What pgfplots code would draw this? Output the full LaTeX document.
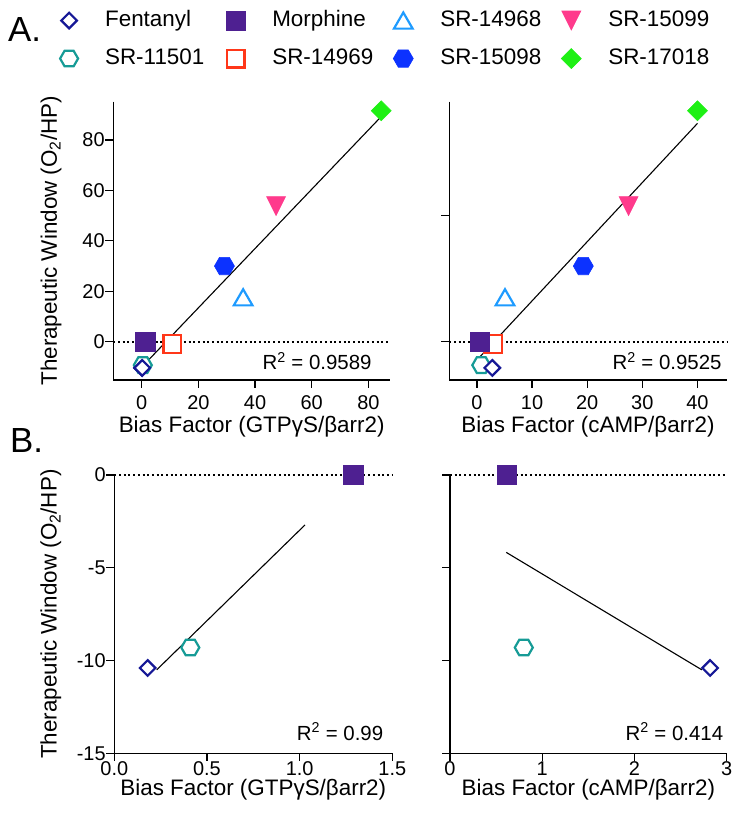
\documentclass[border=0pt]{standalone}
\usepackage{fontspec}
\setmainfont{Liberation Sans}
\usepackage{pgfplots}
\pgfplotsset{compat=1.18}

\definecolor{cFen}{RGB}{22,24,150}
\definecolor{cMor}{RGB}{78,32,145}
\definecolor{cSa}{RGB}{30,155,255}
\definecolor{cSb}{RGB}{255,58,140}
\definecolor{cSc}{RGB}{22,155,150}
\definecolor{cSd}{RGB}{255,55,25}
\definecolor{cSe}{RGB}{12,50,255}
\definecolor{cSf}{RGB}{30,240,20}

\pgfdeclareplotmark{hexa}{%
  \pgfpathmoveto{\pgfqpoint{\pgfplotmarksize}{0pt}}%
  \pgfpathlineto{\pgfqpoint{0.5\pgfplotmarksize}{0.866\pgfplotmarksize}}%
  \pgfpathlineto{\pgfqpoint{-0.5\pgfplotmarksize}{0.866\pgfplotmarksize}}%
  \pgfpathlineto{\pgfqpoint{-\pgfplotmarksize}{0pt}}%
  \pgfpathlineto{\pgfqpoint{-0.5\pgfplotmarksize}{-0.866\pgfplotmarksize}}%
  \pgfpathlineto{\pgfqpoint{0.5\pgfplotmarksize}{-0.866\pgfplotmarksize}}%
  \pgfpathclose
  \pgfusepathqfillstroke
}
\pgfdeclareplotmark{dia}{%
  \pgfpathmoveto{\pgfqpoint{0pt}{\pgfplotmarksize}}%
  \pgfpathlineto{\pgfqpoint{\pgfplotmarksize}{0pt}}%
  \pgfpathlineto{\pgfqpoint{0pt}{-\pgfplotmarksize}}%
  \pgfpathlineto{\pgfqpoint{-\pgfplotmarksize}{0pt}}%
  \pgfpathclose
  \pgfusepathqfillstroke
}
\pgfdeclareplotmark{sq}{%
  \pgfpathmoveto{\pgfqpoint{-\pgfplotmarksize}{-\pgfplotmarksize}}%
  \pgfpathlineto{\pgfqpoint{\pgfplotmarksize}{-\pgfplotmarksize}}%
  \pgfpathlineto{\pgfqpoint{\pgfplotmarksize}{\pgfplotmarksize}}%
  \pgfpathlineto{\pgfqpoint{-\pgfplotmarksize}{\pgfplotmarksize}}%
  \pgfpathclose
  \pgfusepathqfillstroke
}
\pgfdeclareplotmark{tri}{%
  \pgfpathmoveto{\pgfqpoint{0pt}{0.95\pgfplotmarksize}}%
  \pgfpathlineto{\pgfqpoint{1.1\pgfplotmarksize}{-0.95\pgfplotmarksize}}%
  \pgfpathlineto{\pgfqpoint{-1.1\pgfplotmarksize}{-0.95\pgfplotmarksize}}%
  \pgfpathclose
  \pgfusepathqfillstroke
}
\pgfdeclareplotmark{itri}{%
  \pgfpathmoveto{\pgfqpoint{0pt}{-\pgfplotmarksize}}%
  \pgfpathlineto{\pgfqpoint{\pgfplotmarksize}{\pgfplotmarksize}}%
  \pgfpathlineto{\pgfqpoint{-\pgfplotmarksize}{\pgfplotmarksize}}%
  \pgfpathclose
  \pgfusepathqfillstroke
}

\tikzset{
  rsq/.style={anchor=east, font=\fontsize{20.5}{24}\selectfont, inner sep=0pt},
  axl/.style={line width=1.3bp, black, line join=miter},
  tk/.style={line width=1.3bp, black},
}

\pgfplotsset{
  panel/.style={
    scale only axis, clip=false, anchor=south west,
    axis lines*=left,
    axis line style={draw=none},
    major tick style={draw=none},
    major tick length=0pt,
    tick label style={font=\fontsize{20}{24}\selectfont, black},
    xticklabel style={anchor=north, inner sep=0pt, yshift=-15bp},
    yticklabel style={anchor=east, inner sep=0pt, xshift=-8.5bp},
    label style={font=\fontsize{22.5}{27}\selectfont, black},
    /pgf/number format/assume math mode=true,
  },
  fen/.style={only marks, mark=dia, mark size=7.8bp, mark options={solid, draw=cFen, fill=white, line width=2.2bp}},
  mor/.style={only marks, mark=sq, mark size=9.6bp, mark options={solid, draw=cMor, fill=cMor, line width=0.6bp}},
  sa/.style={only marks, mark=tri, mark size=8.5bp, mark options={solid, draw=cSa, fill=white, line width=2.2bp}},
  sb/.style={only marks, mark=itri, mark size=9.5bp, mark options={solid, draw=cSb, fill=cSb, line width=0.6bp}},
  sc/.style={only marks, mark=hexa, mark size=9bp, mark options={solid, draw=cSc, fill=white, line width=2.2bp}},
  sd/.style={only marks, mark=sq, mark size=8.8bp, mark options={solid, draw=cSd, fill=white, line width=2.4bp}},
  se/.style={only marks, mark=hexa, mark size=10bp, mark options={solid, draw=cSe, fill=cSe, line width=0.6bp}},
  sf/.style={only marks, mark=dia, mark size=10bp, mark options={solid, draw=cSf, fill=cSf, line width=0.6bp}},
  zeroline/.style={forget plot, no marks, black, line width=2bp, dash pattern=on 2bp off 2.7bp},
  regline/.style={forget plot, no marks, black, line width=1.1bp},
}

\begin{document}
\begin{tikzpicture}

% ---------------- A, left ----------------
\begin{axis}[panel,
  at={(113.3bp,-380bp)}, width=276.7bp, height=278.3bp,
  xmin=-10, xmax=87.6, ymin=-15.2, ymax=95.2,
  xtick={0,20,40,60,80}, ytick={0,20,40,60,80},
  xlabel={Bias Factor (GTPγS/βarr2)},
  ylabel={Therapeutic Window (O\textsubscript{2}/HP)},
  xlabel style={at={(axis description cs:0.5,-0.189)}, anchor=base},
  ylabel style={at={(axis description cs:-0.225,0.5)}, anchor=center},
  legend columns=4,
  legend cell align=left,
  legend style={at={(axis description cs:-0.193,1.33)}, anchor=north west,
    draw=none, fill=none, inner sep=0pt,
    font=\fontsize{22.5}{27}\selectfont,
    nodes={inner sep=0pt, text height=16bp, text depth=5bp},
    row sep=17bp,
    /tikz/every odd column/.append style={column sep=27bp},
  },
]
\draw[axl] (rel axis cs:0,1) -- (rel axis cs:0,0) -- (rel axis cs:1,0);
\pgfplotsinvokeforeach{0,20,40,60,80}{\draw[tk] (axis cs:#1,-15.2) -- ++(0bp,-8bp);}
\pgfplotsinvokeforeach{0,20,40,60,80}{\draw[tk] (axis cs:-10,#1) -- ++(-8bp,0bp);}
\addplot[zeroline] coordinates {(-10,0) (87.6,0)};
\addplot[regline] coordinates {(0.18,-9.9) (84.5,89.3)};
\addplot[fen] coordinates {(0.18,-10.4)};
\addplot[mor] coordinates {(1.29,0)};
\addplot[sa] coordinates {(35.8,17.6)};
\addplot[sb] coordinates {(47.4,53.8)};
\addplot[sc] coordinates {(0.41,-9.3)};
\addplot[sd] coordinates {(10.8,-0.9)};
\addplot[se] coordinates {(29.2,30.0)};
\addplot[sf] coordinates {(84.5,91.6)};
\addplot[fen, forget plot] coordinates {(0.18,-10.4)};
\legend{\makebox[121bp][l]{Fentanyl},\makebox[121bp][l]{Morphine},\makebox[121bp][l]{SR-14968},\makebox[121bp][l]{SR-15099},
        \makebox[121bp][l]{SR-11501},\makebox[121bp][l]{SR-14969},\makebox[121bp][l]{SR-15098},\makebox[121bp][l]{SR-17018}}
\node[rsq] at (rel axis cs:0.934,0.068) {R\textsuperscript{2} = 0.9589};
\end{axis}

% ---------------- A, right ----------------
\begin{axis}[panel,
  at={(449.3bp,-380bp)}, width=277.4bp, height=278.3bp,
  xmin=-5, xmax=45.3, ymin=-15.2, ymax=95.2,
  xtick={0,10,20,30,40}, ytick={0,50}, yticklabels={,},
  xlabel={Bias Factor (cAMP/βarr2)},
  xlabel style={at={(axis description cs:0.5,-0.189)}, anchor=base},
]
\draw[axl] (rel axis cs:0,1) -- (rel axis cs:0,0) -- (rel axis cs:1,0);
\pgfplotsinvokeforeach{0,10,20,30,40}{\draw[tk] (axis cs:#1,-15.2) -- ++(0bp,-8bp);}
\pgfplotsinvokeforeach{0,50}{\draw[tk] (axis cs:-5,#1) -- ++(-8bp,0bp);}
\addplot[zeroline] coordinates {(-5,0) (45.3,0)};
\addplot[regline] coordinates {(0.6,-5.9) (40.0,86.6)};
\addplot[sd] coordinates {(3.0,-0.9)};
\addplot[sa] coordinates {(5.1,17.6)};
\addplot[se] coordinates {(19.3,30.0)};
\addplot[sb] coordinates {(27.5,53.8)};
\addplot[sf] coordinates {(40.0,91.6)};
\addplot[sc] coordinates {(0.8,-9.3)};
\addplot[fen] coordinates {(2.8,-10.4)};
\addplot[mor] coordinates {(0.6,0)};
\node[rsq] at (rel axis cs:0.982,0.068) {R\textsuperscript{2} = 0.9525};
\end{axis}

% ---------------- B, left ----------------
\begin{axis}[panel,
  at={(114.3bp,-753.3bp)}, width=278bp, height=278.3bp,
  xmin=0, xmax=1.5, ymin=-15, ymax=0,
  xtick={0,0.5,1,1.5}, xticklabels={0.0,0.5,1.0,1.5},
  ytick={-15,-10,-5,0}, yticklabels={-15,-10,-5,0},
  xticklabel style={yshift=7bp},
  xlabel={Bias Factor (GTPγS/βarr2)},
  ylabel={Therapeutic Window (O\textsubscript{2}/HP)},
  xlabel style={at={(axis description cs:0.5,-0.153)}, anchor=base},
  ylabel style={at={(axis description cs:-0.228,0.5)}, anchor=center},
]
\draw[axl] (rel axis cs:0,1) -- (rel axis cs:0,0) -- (rel axis cs:1,0);
\pgfplotsinvokeforeach{0,0.5,1,1.5}{\draw[tk] (axis cs:#1,-15) -- ++(0bp,-8bp);}
\pgfplotsinvokeforeach{-15,-10,-5,0}{\draw[tk] (axis cs:0,#1) -- ++(-8bp,0bp);}
\addplot[zeroline] coordinates {(0,0) (1.5,0)};
\addplot[regline] coordinates {(0.229,-10.5) (1.029,-2.69)};
\addplot[sc] coordinates {(0.41,-9.3)};
\addplot[fen] coordinates {(0.18,-10.4)};
\addplot[mor] coordinates {(1.29,0)};
\node[rsq] at (rel axis cs:0.968,0.078) {R\textsuperscript{2} = 0.99};
\end{axis}

% ---------------- B, right ----------------
\begin{axis}[panel,
  at={(450bp,-753.3bp)}, width=276.7bp, height=278.3bp,
  xmin=0, xmax=3, ymin=-15, ymax=0,
  xtick={0,1,2,3}, ytick={-15,-10,-5,0}, yticklabels={,,,},
  xticklabel style={yshift=7bp},
  xlabel={Bias Factor (cAMP/βarr2)},
  xlabel style={at={(axis description cs:0.5,-0.153)}, anchor=base},
]
\draw[axl] (rel axis cs:0,1) -- (rel axis cs:0,0) -- (rel axis cs:1,0);
\pgfplotsinvokeforeach{0,1,2,3}{\draw[tk] (axis cs:#1,-15) -- ++(0bp,-8bp);}
\pgfplotsinvokeforeach{-15,-10,-5,0}{\draw[tk] (axis cs:0,#1) -- ++(-8bp,0bp);}
\addplot[zeroline] coordinates {(0,0) (3,0)};
\addplot[regline] coordinates {(0.61,-4.17) (2.73,-10.5)};
\addplot[sc] coordinates {(0.8,-9.3)};
\addplot[fen] coordinates {(2.82,-10.4)};
\addplot[mor] coordinates {(0.615,0)};
\node[rsq] at (rel axis cs:0.988,0.078) {R\textsuperscript{2} = 0.414};
\end{axis}

\node[anchor=base west, inner sep=0pt, font=\fontsize{35}{40}\selectfont] at (8bp,-41.7bp) {A.};
\node[anchor=base west, inner sep=0pt, font=\fontsize{35}{40}\selectfont] at (10bp,-452bp) {B.};

\pgfresetboundingbox
\useasboundingbox (0,0) rectangle (741bp,-821bp);
\end{tikzpicture}
\end{document}
